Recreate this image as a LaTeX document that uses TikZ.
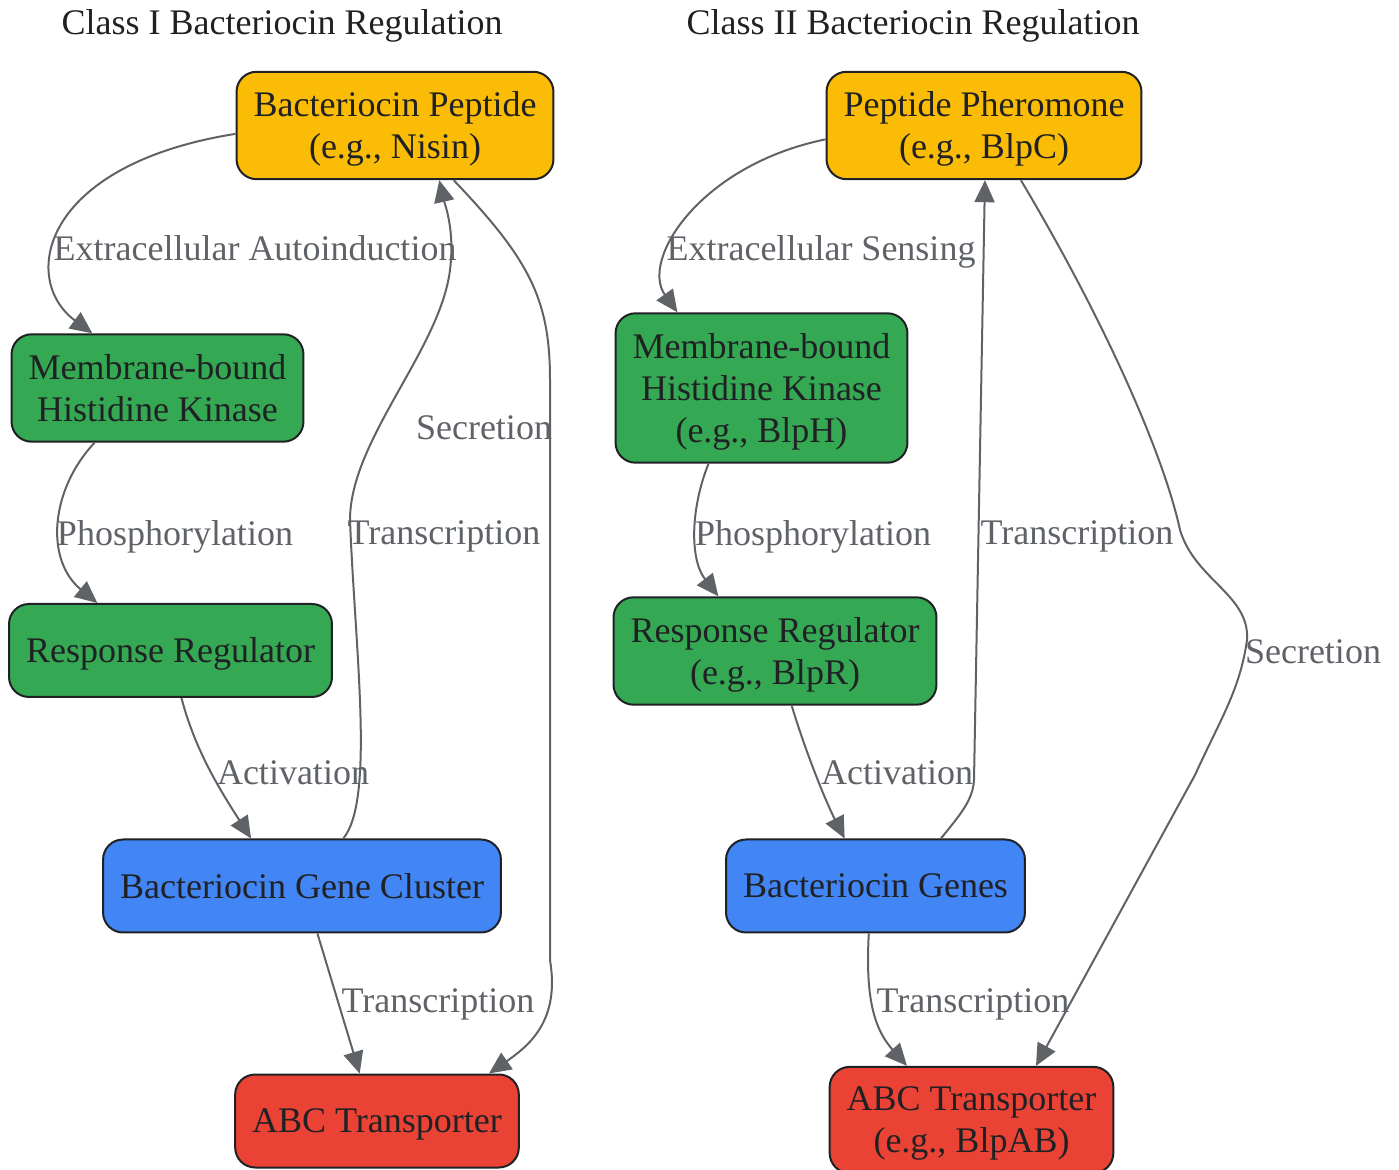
\documentclass[tikz,border=0pt]{standalone}
\usepackage{fontspec}
\setmainfont{Liberation Serif}
\usetikzlibrary{arrows.meta}
\definecolor{pepyellow}{HTML}{FBBC05}
\definecolor{kingreen}{HTML}{34A853}
\definecolor{geneblue}{HTML}{4285F4}
\definecolor{abcred}{HTML}{EA4335}
\definecolor{edgegray}{HTML}{5F6368}
\definecolor{textdark}{HTML}{202124}
\begin{document}
\begin{tikzpicture}[x=0.5pt, y=-0.5pt,
        txt/.style = {font=\fontsize{18}{21}\selectfont, text depth=-0.8pt},
        main/.style = {txt, draw=textdark, line width=1pt, rounded corners=10pt, align=center, text=textdark, inner xsep=8.5pt, inner ysep=10.1pt, minimum height=46.5pt},
        pep/.style = {main, fill=pepyellow},
        kin/.style = {main, fill=kingreen},
        gene/.style = {main, fill=geneblue},
        abc/.style = {main, fill=abcred},
        title/.style = {txt, text=textdark},
        lbl/.style = {txt, text=edgegray, inner sep=0pt},
        edge/.style = {draw=edgegray, line width=1pt, -{Triangle[length=11pt, width=10pt]}}]
            \useasboundingbox (0,0) rectangle (1399,1170);
            \node[title] (t1) at (282,22) {Class I Bacteriocin Regulation};
            \node[title] (t2) at (913,22) {Class II Bacteriocin Regulation};
            \node[pep] (bp) at (395,125.5) {Bacteriocin Peptide\\(e.g., Nisin)};
            \node[kin] (hk1) at (157.5,388) {Membrane-bound\\Histidine Kinase};
            \node[kin] (rr1) at (170.5,650.5) {Response Regulator};
            \node[gene] (bgc) at (302,886) {Bacteriocin Gene Cluster};
            \node[abc] (abc1) at (377,1121) {ABC Transporter};
            \node[pep] (pp) at (984,125.5) {Peptide Pheromone\\(e.g., BlpC)};
            \node[kin] (hk2) at (761.5,388) {Membrane-bound\\Histidine Kinase\\(e.g., BlpH)};
            \node[kin] (rr2) at (775,651) {Response Regulator\\(e.g., BlpR)};
            \node[gene] (bg) at (875.5,886) {Bacteriocin Genes};
            \node[abc] (abc2) at (971.5,1120) {ABC Transporter\\(e.g., BlpAB)};
            \node[lbl] (l1) at (255,248) {Extracellular Autoinduction};
            \node[lbl] (l2) at (175,533) {Phosphorylation};
            \node[lbl] (l3) at (293,773) {Activation};
            \node[lbl] (l4) at (444,533) {Transcription};
            \node[lbl] (l5) at (484,428) {Secretion};
            \node[lbl] (l6) at (438,1001) {Transcription};
            \node[lbl] (l7) at (821,248) {Extracellular Sensing};
            \node[lbl] (l8) at (813,533) {Phosphorylation};
            \node[lbl] (l9) at (897,773) {Activation};
            \node[lbl] (l10) at (1077,533) {Transcription};
            \node[lbl] (l11) at (1313,652) {Secretion};
            \node[lbl] (l12) at (973,1001) {Transcription};
            \draw[edge] (bp.183) .. controls (40,165) and (20,280) .. (hk1.140);
            \draw[edge] (hk1.221) .. controls (50,490) and (45,560) .. (rr1.147);
            \draw[edge] (rr1.283) .. controls (195,750) and (220,790) .. (bgc.137);
            \draw[edge] (bgc.49) .. controls (375,800) and (355,650) .. (350,520) .. controls (350,440) and (440,350) .. (450,270) .. controls (455,230) and (445,205) .. (bp.309);
            \draw[edge] (bp.317) .. controls (530,260) and (550,300) .. (550,380) -- (550,960) .. controls (560,1020) and (530,1045) .. (abc1.23);
            \draw[edge] (bgc.288) -- (abc1.110);
            \draw[edge] (pp.185) .. controls (700,165) and (640,260) .. (hk2.138);
            \draw[edge] (hk2.235) .. controls (690,510) and (690,560) .. (rr2.136);
            \draw[edge] (rr2.287) .. controls (805,750) and (825,800) .. (bg.123);
            \draw[edge] (bg.36) .. controls (960,815) and (973,800) .. (974,780) -- (pp.271);
            \draw[edge] (pp.304) .. controls (1110,330) and (1165,460) .. (1180,530) .. controls (1195,580) and (1250,595) .. (1247,640) .. controls (1240,690) and (1220,720) .. (1195,775) -- (abc2.40);
            \draw[edge] (bg.262) .. controls (865,1000) and (875,1030) .. (abc2.140);
        \end{tikzpicture}
\end{document}
